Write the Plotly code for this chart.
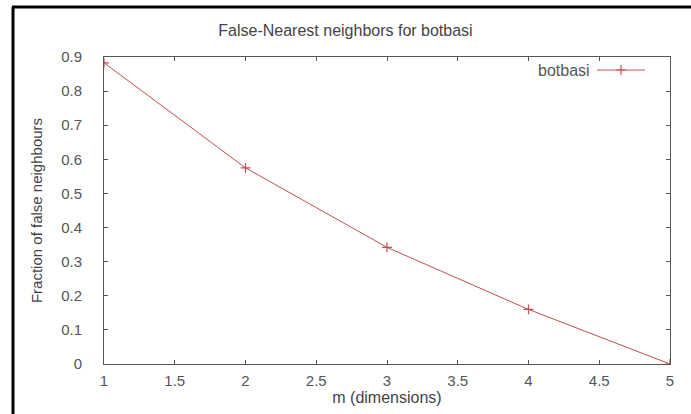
import plotly.graph_objects as go

# False-nearest-neighbour fractions per embedding dimension
dimensions = [1, 2, 3, 4, 5]
false_fraction = [0.883, 0.575, 0.342, 0.160, 0.0]
series_name = "botbasi"

x_ticks = [1, 1.5, 2, 2.5, 3, 3.5, 4, 4.5, 5]
y_ticks = [0, 0.1, 0.2, 0.3, 0.4, 0.5, 0.6, 0.7, 0.8, 0.9]

W, H = 691, 414
ML, MR, MT, MB = 104, 21, 57, 50
PW, PH = W - ML - MR, H - MT - MB

line_color = "#c0504d"
axis_color = "#555555"
text_color = "#555555"
font_family = "Liberation Sans"


def px_x(p):
    return (p - ML) / PW


def px_y(p):
    return (H - MB - p) / PH


marker_style = dict(symbol="cross-thin", size=7, line=dict(color=line_color, width=1.2))

fig = go.Figure()
fig.add_trace(go.Scatter(
    x=dimensions, y=false_fraction, name=series_name,
    mode="lines+markers", showlegend=False,
    line=dict(color=line_color, width=1), marker=marker_style,
))
# legend sample (its text is drawn separately, left of the line sample)
fig.add_trace(go.Scatter(
    x=[None], y=[None], name=" ", mode="lines+markers",
    line=dict(color=line_color, width=1), marker=marker_style,
))

axis_common = dict(
    showline=True, linecolor=axis_color, linewidth=1, mirror="ticks",
    ticks="inside", ticklen=4, tickcolor=axis_color, showgrid=False,
    zeroline=False, automargin=False,
    tickfont=dict(family=font_family, size=15, color=text_color),
)

fig.update_layout(
    width=W, height=H,
    margin=dict(l=ML, r=MR, t=MT, b=MB, autoexpand=False),
    paper_bgcolor="white", plot_bgcolor="white",
    title=dict(text="False-Nearest neighbors for botbasi", x=px_x(387), xanchor="center",
               y=1 - 30 / H, yanchor="middle",
               font=dict(family=font_family, size=16, color="#444444")),
    xaxis=dict(range=[1, 5], tickvals=x_ticks, ticktext=[f"{v:g}" for v in x_ticks],
               ticklabelstandoff=3,
               title=dict(text="m (dimensions)", standoff=3,
                          font=dict(family=font_family, size=16, color="#444444")),
               **axis_common),
    yaxis=dict(range=[0, 0.9], tickvals=y_ticks, ticktext=[f"{v:g}" for v in y_ticks],
               ticklabelstandoff=18,
               title=dict(text="Fraction of false neighbours", standoff=14,
                          font=dict(family="Liberation Sans Narrow, Liberation Sans",
                                    size=15, color="#444444")),
               **axis_common),
    legend=dict(x=px_x(656), y=px_y(70), xanchor="right", yanchor="middle",
                bgcolor="rgba(0,0,0,0)", itemwidth=48, font=dict(size=1),
                tracegroupgap=0),
    annotations=[dict(text=series_name, xref="paper", yref="paper",
                      x=px_x(592), y=px_y(70), xanchor="right", yanchor="middle",
                      showarrow=False,
                      font=dict(family=font_family, size=16, color=text_color))],
    shapes=[
        dict(type="line", xref="paper", yref="paper", x0=px_x(13), x1=px_x(13),
             y0=px_y(7), y1=px_y(H), line=dict(color="black", width=3)),
        dict(type="line", xref="paper", yref="paper", x0=px_x(12), x1=px_x(W + 2),
             y0=px_y(7), y1=px_y(7), line=dict(color="black", width=3)),
    ],
)

fig.write_html("out.html", config={"displayModeBar": False})
